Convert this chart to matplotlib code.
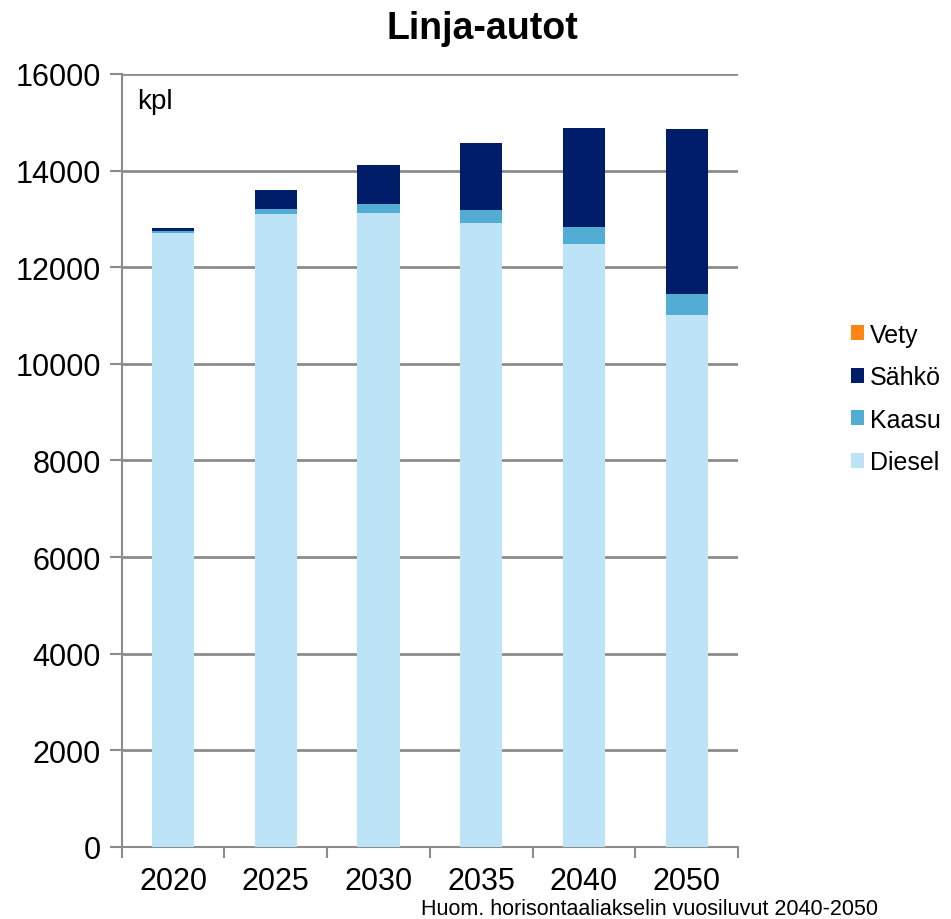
import matplotlib
matplotlib.use("Agg")
import matplotlib.pyplot as plt
import numpy as np
from matplotlib.patches import Patch

plt.rcParams['font.family'] = ['Liberation Sans', 'DejaVu Sans']

years = ['2020', '2025', '2030', '2035', '2040', '2050']
diesel = [12700, 13095, 13115, 12910, 12480, 11005]
kaasu = [40, 110, 190, 275, 350, 450]
sahko = [80, 395, 815, 1385, 2050, 3405]
vety = [0, 0, 0, 0, 0, 0]

series = [
    ('Diesel', diesel, '#bde3f6'),
    ('Kaasu', kaasu, '#52acd4'),
    ('Sähkö', sahko, '#001d6a'),
    ('Vety', vety, '#ff8514'),
]

fig = plt.figure(figsize=(9.51, 9.2), dpi=100)
ax = fig.add_axes([0.128, 0.0783, 0.648, 0.8402])

x = np.arange(len(years))
bottom = np.zeros(len(years))
for name, vals, color in series:
    ax.bar(x, vals, width=0.41, bottom=bottom, color=color, zorder=3)
    bottom += np.array(vals)

ax.set_xlim(-0.5, len(years) - 0.5)
ax.set_ylim(0, 16000)
ax.set_yticks(np.arange(0, 16001, 2000))
ax.yaxis.grid(True, color='#8c8c8c', linewidth=2, zorder=0)
ax.set_axisbelow(True)

ax.set_xticks(x)
ax.set_xticklabels(years, fontsize=22)
ax.set_xticks(np.arange(-0.5, len(years)), minor=True)
ax.tick_params(axis='x', which='major', length=0, pad=14)
ax.tick_params(axis='x', which='minor', length=8, width=1.5, color='#8c8c8c', direction='out')
ax.tick_params(axis='y', labelsize=22, length=9, width=1.5, color='#8c8c8c', pad=6)

for side in ['top', 'right']:
    ax.spines[side].set_visible(False)
for side in ['left', 'bottom']:
    ax.spines[side].set_color('#8c8c8c')
    ax.spines[side].set_linewidth(1.5)

ax.text(0.025, 0.982, 'kpl', transform=ax.transAxes, fontsize=20, va='top', ha='left')

fig.text(0.507, 0.969, 'Linja-autot', fontsize=27, fontweight='bold', ha='center', va='center')

handles = [Patch(facecolor=c, label=n) for n, _, c in reversed(series)]
fig.legend(handles=handles, loc='center left', bbox_to_anchor=(0.884, 0.566),
           frameon=False, fontsize=18, handlelength=0.55, handleheight=0.55,
           handletextpad=0.22, labelspacing=0.74, borderaxespad=0)

fig.text(0.443, 0.011, 'Huom. horisontaaliakselin vuosiluvut 2040-2050', fontsize=15.5,
         ha='left', va='center')

fig.savefig('out.png', dpi=100)
